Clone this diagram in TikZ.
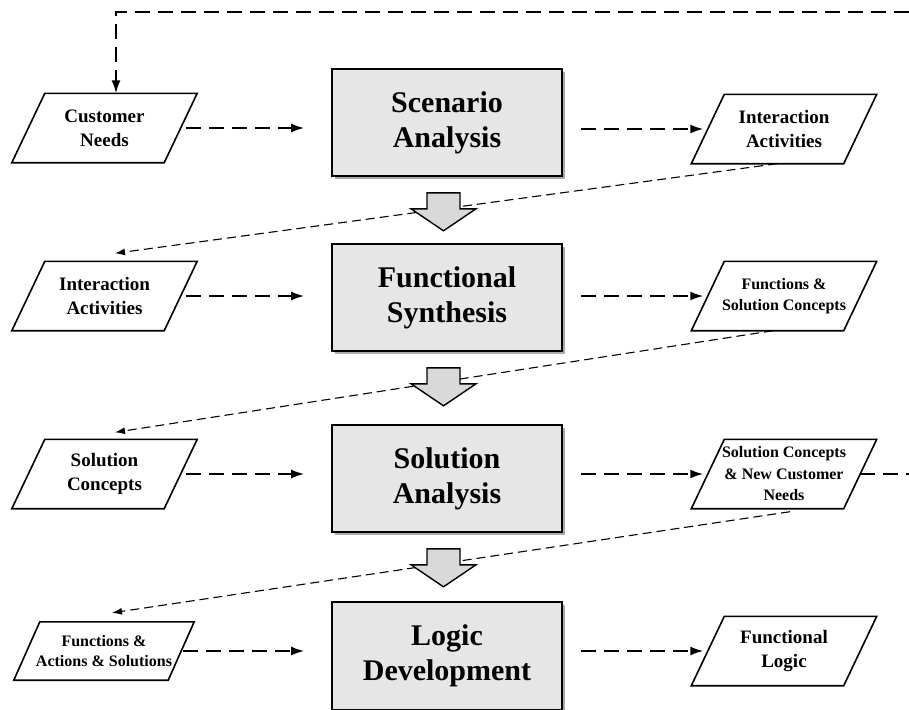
\documentclass[tikz,border=0pt]{standalone}
\usepackage{fontspec}
\setmainfont{Liberation Serif}
\usetikzlibrary{arrows.meta,shadows,calc}
\definecolor{stagefill}{HTML}{E6E6E6}
\definecolor{arrowfill}{HTML}{D9D9D9}

\begin{document}
\begin{tikzpicture}[x=1pt,y=-1pt,
  stage/.style={draw, line width=1.6pt, fill=stagefill, minimum width=230pt,
    minimum height=107pt, inner sep=0pt, align=center,
    font=\bfseries\fontsize{30}{35}\selectfont,
    drop shadow={shadow xshift=2.5pt, shadow yshift=-2.5pt, fill=black!60, opacity=0.55}},
  data/.style={minimum width=185pt, minimum height=69pt, inner sep=0pt, align=center,
    font=\bfseries\fontsize{19}{24}\selectfont},
  datasmall/.style={data, font=\bfseries\fontsize{16}{20.5}\selectfont},
  flow/.style={dash pattern=on 15pt off 8pt, line width=1.8pt,
    -{Latex[length=13pt,width=9pt]}},
  feedback/.style={dash pattern=on 15pt off 8pt, line width=1.8pt},
  link/.style={dash pattern=on 9pt off 5pt, line width=1.1pt,
    -{Latex[length=10pt,width=7pt]}},
  stagearrow/.style={draw, line width=1.4pt, fill=arrowfill, line join=miter},
  ioframe/.style={line width=1.6pt, line join=miter}
]
\useasboundingbox (0,0) rectangle (909,709);

% process stages
\node[stage] (sa) at (447,122.5) {Scenario\\Analysis};
\node[stage] (fs) at (447,297.5) {Functional\\Synthesis};
\node[stage] (so) at (447,478.5) {Solution\\Analysis};
\node[stage, minimum height=108pt] (ld) at (447,656) {Logic\\Development};

% inputs (left column)
\node[data] (in1) at (104.5,128) {Customer\\Needs};
\node[data] (in2) at (104.5,296) {Interaction\\Activities};
\node[data] (in3) at (104.5,474) {Solution\\Concepts};
\node[datasmall, minimum width=180pt, minimum height=58pt] (in4) at (104,651) {Functions \&\\Actions \& Solutions};

% outputs (right column)
\node[data] (out1) at (784,129) {Interaction\\Activities};
\node[datasmall] (out2) at (784,296) {Functions \&\\Solution Concepts};
\node[datasmall, font=\bfseries\fontsize{16}{21.5}\selectfont] (out3) at (784,474) {Solution Concepts\\\& New Customer\\Needs};
\node[data] (out4) at (784,651) {Functional\\Logic};

% parallelogram outlines of the data nodes
\foreach \n/\s in {in1/33,in2/33,in3/33,in4/26,out1/33,out2/33,out3/33,out4/33}
  \draw[ioframe] ([xshift=\s pt]\n.north west) -- (\n.north east)
    -- ([xshift=-\s pt]\n.south east) -- (\n.south west) -- cycle;

% inputs into stages
\foreach \i/\p in {in1/sa,in2/fs,in3/so,in4/ld}
  \draw[flow, shorten >=27pt] ([xshift=-11pt]\i.east) -- (\i.east -| \p.west);

% stages into outputs
\foreach \p/\o in {sa/out1,fs/out2,so/out3,ld/out4}
  \draw[flow, shorten <=18pt] (\p.east |- \o.west) -- ([xshift=12pt]\o.west);

% outputs handed on as the next inputs
\draw[link] ([xshift=-7pt]out1.south) -- ([xshift=10.5pt,yshift=8pt]in2.north);
\draw[link] ([xshift=-11pt]out2.south) -- ([xshift=10.5pt,yshift=7pt]in3.north);
\draw[link] ([xshift=6pt,yshift=-3pt]out3.south) -- ([xshift=8pt,yshift=9pt]in4.north);

% feedback loop of new customer needs
\coordinate (loopTop) at (909,12);
\coordinate (loopSide) at (909,474);
\draw[feedback] ([xshift=-17pt]out3.east) -- (out3.east -| loopSide);
\draw[feedback, -{Latex[length=13pt,width=9pt]}] (loopTop) -| ([xshift=11.5pt]in1.north);

% block arrows between stages
\foreach \a in {sa,fs,so}
  \draw[stagearrow] ($(\a.south)+(-20,16)$) -- ($(\a.south)+(13,16)$)
    -- ($(\a.south)+(13,32)$) -- ($(\a.south)+(29,32)$)
    -- ($(\a.south)+(-3.5,54)$) -- ($(\a.south)+(-36,32)$)
    -- ($(\a.south)+(-20,32)$) -- cycle;
\end{tikzpicture}
\end{document}
